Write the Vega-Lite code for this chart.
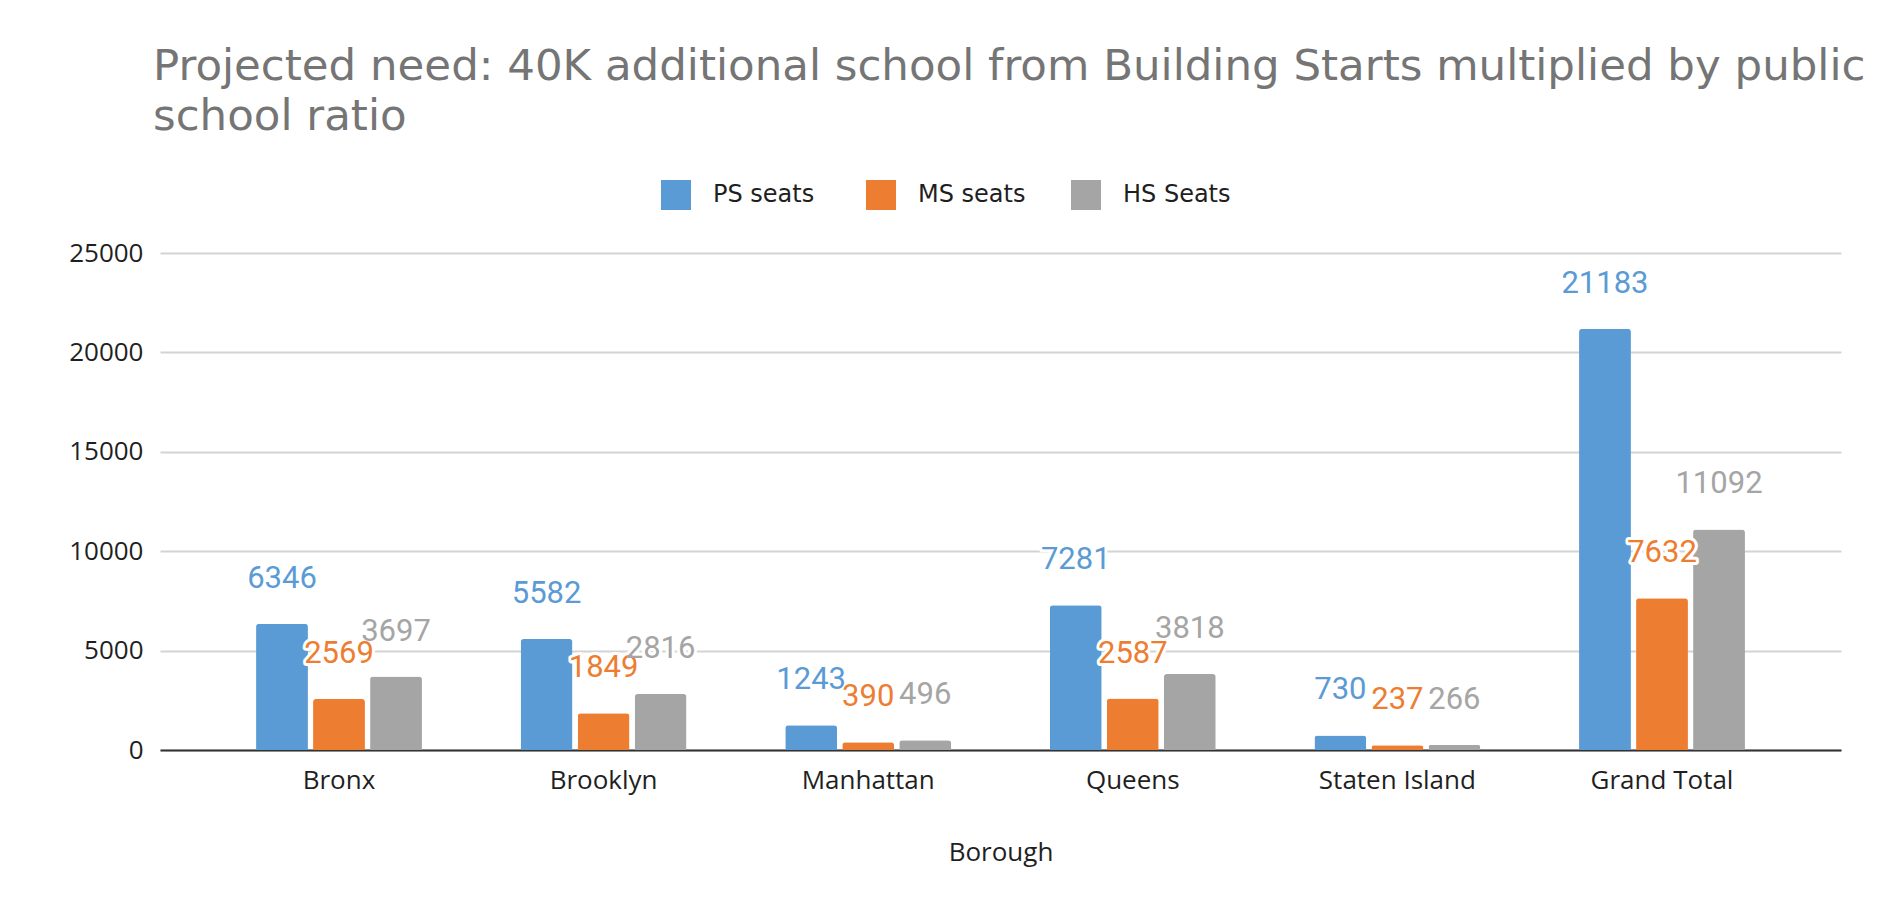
{
  "$schema": "https://vega.github.io/schema/vega-lite/v6.json",
  "width": 1681,
  "height": 497,
  "autosize": {"type": "none"},
  "padding": {"left": 160, "top": 253, "right": 42, "bottom": 159},
  "background": "white",
  "title": {
    "text": ["Projected need: 40K additional school from Building Starts multiplied by public", "school ratio"],
    "anchor": "start",
    "frame": "group",
    "font": "DejaVu Sans",
    "fontSize": 43.5,
    "fontWeight": "normal",
    "color": "#757575",
    "lineHeight": 50,
    "dx": -7,
    "dy": -41,
    "offset": 0
  },
  "data": {
    "values": [
      {"Borough": "Bronx", "Type": "PS seats", "Seats": 6346},
      {"Borough": "Bronx", "Type": "MS seats", "Seats": 2569},
      {"Borough": "Bronx", "Type": "HS Seats", "Seats": 3697},
      {"Borough": "Brooklyn", "Type": "PS seats", "Seats": 5582},
      {"Borough": "Brooklyn", "Type": "MS seats", "Seats": 1849},
      {"Borough": "Brooklyn", "Type": "HS Seats", "Seats": 2816},
      {"Borough": "Manhattan", "Type": "PS seats", "Seats": 1243},
      {"Borough": "Manhattan", "Type": "MS seats", "Seats": 390},
      {"Borough": "Manhattan", "Type": "HS Seats", "Seats": 496},
      {"Borough": "Queens", "Type": "PS seats", "Seats": 7281},
      {"Borough": "Queens", "Type": "MS seats", "Seats": 2587},
      {"Borough": "Queens", "Type": "HS Seats", "Seats": 3818},
      {"Borough": "Staten Island", "Type": "PS seats", "Seats": 730},
      {"Borough": "Staten Island", "Type": "MS seats", "Seats": 237},
      {"Borough": "Staten Island", "Type": "HS Seats", "Seats": 266},
      {"Borough": "Grand Total", "Type": "PS seats", "Seats": 21183},
      {"Borough": "Grand Total", "Type": "MS seats", "Seats": 7632},
      {"Borough": "Grand Total", "Type": "HS Seats", "Seats": 11092}
    ]
  },
  "encoding": {
    "x": {
      "field": "Borough",
      "type": "nominal",
      "sort": ["Bronx", "Brooklyn", "Manhattan", "Queens", "Staten Island", "Grand Total"],
      "scale": {"paddingInner": 0.373, "paddingOuter": 0.363},
      "title": "Borough",
      "axis": {
        "labelAngle": 0,
        "labelFont": "Open Sans",
        "labelFontSize": 26,
        "labelColor": "#1f1f1f",
        "labelPadding": 17,
        "ticks": false,
        "tickSize": 0,
        "domainColor": "#333333",
        "domainWidth": 2,
        "grid": false,
        "titleFont": "Open Sans",
        "titleFontSize": 26,
        "titleFontWeight": "normal",
        "titleColor": "#1f1f1f",
        "titleY": 110,
        "titleBaseline": "alphabetic"
      }
    },
    "xOffset": {
      "field": "Type",
      "type": "nominal",
      "sort": ["PS seats", "MS seats", "HS Seats"],
      "scale": {"paddingInner": 0.09, "paddingOuter": 0}
    },
    "y": {
      "field": "Seats",
      "type": "quantitative",
      "scale": {"domain": [0, 25000], "nice": false},
      "axis": {
        "title": null,
        "values": [0, 5000, 10000, 15000, 20000, 25000],
        "format": "d",
        "labelFont": "Open Sans",
        "labelFontSize": 26,
        "labelColor": "#1f1f1f",
        "labelPadding": 17,
        "ticks": false,
        "domain": false,
        "gridColor": "#d3d3d3",
        "gridWidth": 2
      }
    }
  },
  "layer": [
    {
      "mark": {"type": "bar", "cornerRadiusTopLeft": 3, "cornerRadiusTopRight": 3},
      "encoding": {
        "color": {
          "field": "Type",
          "type": "nominal",
          "scale": {"domain": ["PS seats", "MS seats", "HS Seats"], "range": ["#5B9BD5", "#ED7D31", "#A5A5A5"]},
          "legend": {
            "title": null,
            "orient": "none",
            "direction": "horizontal",
            "legendX": 501,
            "legendY": -73,
            "symbolType": "square",
            "symbolSize": 900,
            "symbolStrokeWidth": 0,
            "labelFont": "DejaVu Sans",
            "labelFontSize": 24,
            "labelColor": "#1f1f1f",
            "labelOffset": 22,
            "columnPadding": 45,
            "gridAlign": "all",
            "padding": 0
          }
        }
      }
    },
    {
      "mark": {"type": "text", "dy": -36, "baseline": "alphabetic", "font": "Roboto", "fontSize": 31, "fill": "white", "stroke": "white", "strokeWidth": 6, "strokeJoin": "round"},
      "encoding": {"text": {"field": "Seats", "type": "quantitative", "format": "d"}}
    },
    {
      "mark": {"type": "text", "dy": -36, "baseline": "alphabetic", "font": "Roboto", "fontSize": 31},
      "encoding": {
        "text": {"field": "Seats", "type": "quantitative", "format": "d"},
        "color": {"field": "Type", "type": "nominal"}
      }
    }
  ],
  "config": {
    "view": {"stroke": null},
    "legend": {"symbolType": "square"}
  }
}
